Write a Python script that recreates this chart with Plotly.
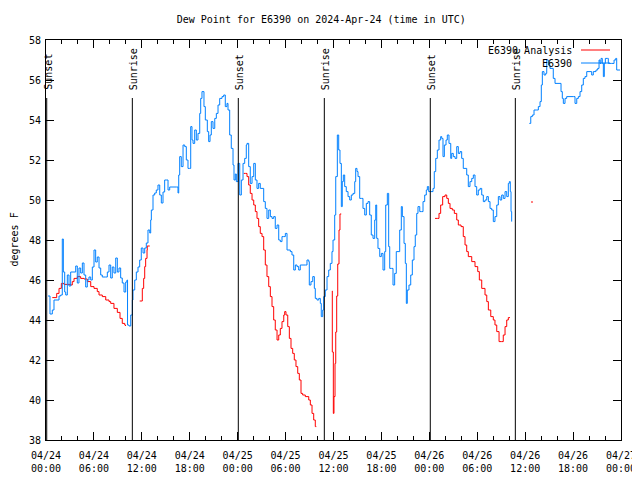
import pandas as pd
import plotly.graph_objects as go

BASE = pd.Timestamp("2024-04-24 00:00")

# E6390 observed dew point: hours since 2024-04-24 00:00 UTC, values in degF (None = gap)
obs_hours = [
    0.25, 0.50, 0.79, 1.00, 1.63, 1.84, 2.04, 2.17, 2.34, 2.47, 2.67, 2.88, 3.09, 3.51, 3.72, 3.92,
    4.13, 4.34, 4.55, 4.76, 4.97, 5.17, 5.38, 5.60, 5.80, 6.01, 6.22, 6.42, 6.64, 6.85, 7.05, 7.48,
    7.68, 7.89, 8.10, 8.30, 8.51, 8.73, 8.93, 9.14, 9.35, 9.55, 9.77, 9.98, 10.14, 10.21, 10.39, 10.61,
    10.81, 10.89, 11.11, 11.31, 11.52, 11.73, 11.93, 12.15, 12.36, 12.56, 12.77, 12.99, 13.11, 13.19,
    13.40, 13.61, 13.81, 14.02, 14.24, 14.44, 14.65, 14.86, 15.06, 15.28, 15.49, 16.32, 16.53, 16.62,
    16.74, 16.94, 17.16, 17.37, 17.57, 17.78, 17.99, 18.12, 18.28, 18.41, 18.62, 18.82, 19.03, 19.25,
    19.37, 19.53, 19.78, 19.95, 20.20, 20.37, 20.54, 20.70, 20.91, 21.13, 21.33, 21.54, 21.75, 22.04,
    22.25, 22.45, 22.66, 22.79, 23.00, 23.20, 23.42, 23.54, 23.70, 23.83, 24.04, 24.26, 24.46, 24.67,
    24.88, 25.08, 25.17, 25.38, 25.58, 25.80, 26.01, 26.21, 26.42, 26.63, 26.83, 27.05, 27.26, 27.46,
    27.67, 27.89, 28.09, 28.30, 28.51, 28.71, 28.93, 29.14, 29.34, 29.55, 29.77, 29.97, 30.18, 30.59,
    30.80, 31.02, 31.22, 31.43, 31.64, 31.84, 32.47, 32.68, 32.90, 32.97, 33.18, 33.40, 33.60, 33.72,
    33.93, 34.15, 34.35, 34.47, 34.65, 34.77, 34.97, 35.19, 35.40, 35.60, 35.81, 35.94, 36.15, 36.28,
    36.48, 36.65, 36.81, 36.98, 37.10, 37.23, 37.40, 37.60, 37.82, 38.03, 38.23, 38.44, 38.66, 38.78,
    38.94, 39.07, 39.28, 39.48, 39.69, 39.91, 40.11, 40.32, 40.53, 40.73, 40.95, 41.16, 41.29, 41.41,
    41.57, 41.79, 41.99, 42.20, 42.41, 42.54, 42.74, 42.91, 43.04, 43.24, 43.45, 43.66, 43.86, 44.08,
    44.29, 44.49, 44.62, 44.83, 44.99, 45.12, 45.24, 45.45, 45.67, 45.87, 46.08, 46.24, 46.42, 46.58,
    46.80, 47.00, 47.21, 47.42, 47.62, 47.75, 47.92, 48.17, 48.46, 48.62, 48.80, 49.00, 49.21, 49.42,
    49.55, 49.71, 49.88, 50.09, 50.25, 50.46, 50.68, 50.80, 51.00, 51.22, 51.43, 51.63, 51.84, 52.05,
    52.25, 52.47, 52.68, 52.88, 53.09, 53.31, 53.51, 53.72, 53.93, 54.13, 54.35, 54.56, 54.76, 54.97,
    55.19, 55.39, 55.60, 55.81, 56.01, 56.22, 56.44, 56.64, 56.85, 57.06, 57.26, 57.48, 57.69, 57.89,
    58.02, 58.14, 58.23, 58.31, 58.80,
    60.52, 60.70, 60.90, 61.11, 61.45, 61.65, 61.86, 62.02, 62.15, 62.36, 62.57, 62.70, 62.90, 63.11,
    63.52, 63.74, 64.36, 64.49, 64.65, 64.78, 64.99, 65.20, 66.03, 66.24, 66.46, 66.66, 66.87, 67.08,
    67.28, 67.49, 67.71, 68.12, 68.33, 68.53, 68.87, 69.08, 69.25, 69.37, 69.50, 69.66, 69.79, 69.91,
    70.04, 70.29, 70.41, 70.84, 71.13, 71.34, 71.46, 71.88,
]
obs_values = [
    45.2, 44.3, 44.5, 45.0, 45.2, 45.25, 48.05, 46.4, 45.4, 45.25, 46.25, 45.7, 46.4, 46.4, 46.7, 45.85,
    46.6, 46.35, 46.85, 46.25, 45.65, 46.0, 46.15, 46.0, 46.65, 47.5, 46.9, 47.15, 46.6, 46.25, 46.15, 46.15,
    46.4, 46.75, 46.1, 46.65, 46.35, 47.1, 46.4, 46.6, 46.1, 45.85, 45.4, 45.9, 46.0, 43.75, 43.7, 44.25,
    45.0, 45.5, 46.0, 46.4, 46.65, 47.0, 47.6, 47.35, 47.6, 47.85, 48.5, 48.35, 49.0, 49.5,
    50.25, 50.35, 50.5, 50.75, 50.25, 49.85, 50.4, 51.0, 51.0, 50.5, 50.65, 50.65, 50.35, 51.25,
    52.17, 51.67, 52.75, 52.67, 52.0, 51.58, 51.58, 53.67, 53.0, 52.83, 53.5, 53.0, 53.33, 54.33,
    55.08, 55.42, 54.67, 54.0, 53.42, 52.92, 53.25, 53.92, 53.58, 54.08, 54.33, 54.75, 55.08, 55.17,
    55.25, 54.67, 54.83, 54.5, 53.25, 52.58, 51.75, 51.0, 51.3, 50.92, 51.83, 50.25, 51.0, 51.83,
    52.08, 52.75, 52.83, 51.67, 50.83, 51.17, 51.83, 51.0, 50.58, 50.83, 50.58, 50.58, 49.92, 49.58,
    49.08, 49.5, 49.17, 49.08, 49.17, 48.58, 48.75, 48.0, 47.92, 48.17, 48.17, 48.33, 47.5, 47.42,
    47.25, 46.5, 46.75, 46.67, 46.5, 46.75, 46.75, 47.0, 46.92, 45.75, 45.92, 46.17, 45.58, 45.08,
    45.0, 45.08, 44.83, 44.17, 44.5, 45.17, 45.5, 46.17, 46.5, 46.83, 47.42, 48.0, 49.25, 51.17,
    53.25, 52.5, 51.83, 49.67, 50.92, 51.25, 50.67, 50.42, 50.17, 50.0, 50.25, 50.33, 50.92, 51.58,
    51.42, 51.17, 50.08, 50.08, 49.58, 49.25, 49.83, 49.92, 49.25, 48.25, 48.08, 49.0, 49.75, 48.08,
    47.58, 47.17, 47.33, 46.5, 47.42, 49.75, 50.33, 47.67, 46.58, 46.58, 45.75, 46.33, 47.42, 47.42,
    48.5, 49.67, 49.17, 47.83, 46.83, 44.83, 45.5, 45.75, 46.25, 47.0, 47.67, 48.25, 49.33, 49.67,
    49.42, 49.42, 49.92, 50.25, 50.5, 50.67, 50.42, 50.42, 50.58, 51.42, 52.08, 52.5, 53.0, 53.17,
    53.08, 52.17, 52.75, 53.0, 53.25, 52.83, 52.08, 52.33, 52.17, 52.08, 52.67, 52.33, 52.42, 52.08,
    51.58, 51.58, 51.25, 50.67, 50.92, 51.08, 51.25, 50.67, 50.25, 50.5, 50.58, 50.25, 49.92, 50.0,
    50.17, 49.92, 49.58, 49.5, 48.92, 49.17, 49.75, 50.17, 50.0, 50.25, 50.08, 50.42, 50.17, 50.83,
    50.92, 50.42, 49.42, 48.92, None,
    53.83, 54.17, 54.25, 54.5, 54.5, 54.67, 54.92, 55.75, 56.42, 56.25, 56.33, 57.0, 56.75, 56.58,
    56.08, 55.83, 55.83, 55.42, 55.08, 54.83, 55.08, 55.17, 55.17, 54.83, 55.08, 55.17, 55.42, 55.75,
    56.08, 56.17, 56.42, 56.42, 56.25, 56.42, 56.5, 56.58, 57.0, 56.83, 57.08, 56.83, 56.17, 56.83,
    57.08, 57.08, 56.83, 56.83, 57.0, 57.08, 56.5, 56.5,
]

# E6390 Analysis dew point (None = gap)
ana_hours = [
    0.79, 1.13, 1.34, 1.63, 1.92, 2.25, 2.67, 3.09, 3.29, 3.51, 3.92, 4.34, 4.76, 5.17, 5.60, 6.01,
    6.42, 6.64, 7.05, 7.48, 7.89, 8.10, 8.51, 8.93, 9.27, 9.55, 9.86, 9.96, 10.5,
    11.73, 12.02, 12.06, 12.23, 12.36, 12.48, 12.65, 12.68, 12.99, 13.5,
    24.76, 24.96, 25.17, 25.38, 25.58, 25.80, 26.01, 26.21, 26.42, 26.63, 26.83, 27.05, 27.26, 27.46,
    27.67, 27.89, 28.09, 28.30, 28.51, 28.71, 28.93, 29.14, 29.34, 29.55, 29.77, 29.89, 30.05, 30.27,
    30.47, 30.68, 30.89, 31.09, 31.30, 31.52, 31.72, 31.93, 32.14, 32.47, 32.90, 33.10, 33.31, 33.52,
    33.72, 33.85, 34.5,
    35.81, 35.85, 35.98, 36.06, 36.19, 36.28, 36.40, 36.53, 36.69, 36.81, 36.97, 37.5,
    48.71, 49.05, 49.21, 49.42, 49.67, 49.96, 50.18, 50.38, 50.59, 50.88, 51.13, 51.43, 51.63, 51.97,
    52.25, 52.47, 52.68, 52.88, 53.31, 53.72, 54.06, 54.26, 54.56, 54.97, 55.19, 55.39, 55.69, 56.01,
    56.22, 56.44, 56.73, 57.06, 57.26, 57.48, 57.69, 57.89, 58.10, 59.0,
    60.73, 60.98,
]
ana_values = [
    45.12, 45.12, 45.33, 45.58, 45.83, 45.78, 45.78, 45.75, 45.92, 46.08, 46.17, 46.08, 46.05, 45.92, 45.67, 45.58,
    45.42, 45.25, 45.17, 45.0, 44.92, 44.83, 44.58, 44.38, 44.08, 43.83, 43.75, 43.7, None,
    44.95, 44.95, 45.58, 46.08, 46.67, 47.08, 47.5, 47.7, 47.7, None,
    51.33, 51.33, 51.17, 50.75, 50.33, 50.0, 49.75, 49.42, 49.08, 48.67, 48.33, 48.17, 47.5, 46.75,
    46.17, 45.67, 45.17, 44.67, 44.0, 43.5, 43.0, 43.25, 43.58, 43.92, 44.25, 44.42, 44.25, 43.67,
    43.08, 42.58, 42.33, 42.0, 41.67, 41.33, 41.0, 40.33, 40.25, 40.17, 40.0, 39.75, 39.33, 39.0,
    38.67, 38.67, None,
    45.45, 42.4, 39.33, 40.17, 41.83, 43.4, 45.2, 46.8, 48.5, 49.3, 49.3, None,
    49.08, 49.08, 49.33, 49.75, 50.17, 50.25, 50.08, 49.83, 49.58, 49.5, 49.33, 49.0, 48.75, 48.67,
    48.17, 47.75, 47.42, 47.17, 46.92, 46.67, 46.42, 46.0, 45.58, 45.25, 44.92, 44.5, 44.17, 44.0,
    43.75, 43.42, 42.92, 42.92, 43.25, 43.67, 44.0, 44.12, 44.12, None,
    49.9, 49.9,
]

# Sun events (hours since 2024-04-24 00:00 UTC)
sun_labels = ["Sunset", "Sunrise", "Sunset", "Sunrise", "Sunset", "Sunrise"]
sun_hours = [0.09, 10.81, 24.08, 34.85, 48.12, 58.77]

# X tick labels
xtick_hours = [0, 6, 12, 18, 24, 30, 36, 42, 48, 54, 60, 66, 72]
xtick_text = ["04/24<br>00:00", "04/24<br>06:00", "04/24<br>12:00", "04/24<br>18:00",
              "04/25<br>00:00", "04/25<br>06:00", "04/25<br>12:00", "04/25<br>18:00",
              "04/26<br>00:00", "04/26<br>06:00", "04/26<br>12:00", "04/26<br>18:00",
              "04/27<br>00:00"]
ytick_vals = [38, 40, 42, 44, 46, 48, 50, 52, 54, 56, 58]

BLUE = "#0080ff"
RED = "#ff0000"
FONT = "DejaVu Sans Mono"


def to_time(hours):
    return [BASE + pd.Timedelta(hours=h) for h in hours]


fig = go.Figure()
fig.add_trace(go.Scatter(x=to_time(ana_hours), y=ana_values, mode="lines",
                         line=dict(color=RED, width=1, shape="hv"),
                         connectgaps=False, name="E6390 Analysis", showlegend=False))
fig.add_trace(go.Scatter(x=to_time(obs_hours), y=obs_values, mode="lines",
                         line=dict(color=BLUE, width=1, shape="hv"),
                         connectgaps=False, name="E6390", showlegend=False))

# The page body has an 8px margin, so the figure is laid out 8px in from the window corner.
OFF = 8
W, H = 632, 472
L, T = 38, 32
pw, ph = 575, 400
R, B = W - L - pw, H - T - ph


def py(pix):  # window pixel (from top) -> paper y
    return (H - B - (pix - OFF)) / ph


def px(pix):  # window pixel (from left) -> paper x
    return (pix - OFF - L) / pw


for lab, h in zip(sun_labels, sun_hours):
    t = BASE + pd.Timedelta(hours=h)
    fig.add_shape(type="line", xref="x", yref="paper", x0=t, x1=t, y0=0, y1=py(98),
                  line=dict(color="black", width=1))
    fig.add_annotation(x=t, xref="x", y=py(92), yref="paper", text=lab, textangle=-90,
                       showarrow=False, xanchor="center", yanchor="bottom", xshift=1,
                       font=dict(family=FONT, size=10, color="black"))

# legend (gnuplot style: text right, sample to its right)
for i, (name, col) in enumerate([("E6390 Analysis", RED), ("E6390", BLUE)]):
    yy = 50 + 13 * i
    fig.add_annotation(x=px(574), xref="paper", y=py(yy), yref="paper", text=name,
                       showarrow=False, xanchor="right", yanchor="middle",
                       font=dict(family=FONT, size=10, color="black"))
    fig.add_shape(type="line", xref="paper", yref="paper", x0=px(581), x1=px(610),
                  y0=py(yy), y1=py(yy), line=dict(color=col, width=1))

fig.add_annotation(x=px(7), xref="paper", y=0.5, yref="paper", text="degrees F",
                   textangle=-90, showarrow=False, xanchor="left", yanchor="middle",
                   borderpad=0,
                   font=dict(family=FONT, size=10, color="black"))

fig.update_layout(
    width=W, height=H,
    margin=dict(l=L, r=R, t=T, b=B, autoexpand=False),
    paper_bgcolor="white", plot_bgcolor="white",
    font=dict(family=FONT, size=10, color="black"),
    title=dict(text="Dew Point for E6390 on 2024-Apr-24 (time in UTC)", x=px(331), xanchor="center",
               y=1 - (19 - OFF) / H, yanchor="middle", font=dict(family=FONT, size=10, color="black")),
    showlegend=False,
)
fig.update_xaxes(
    range=[BASE, BASE + pd.Timedelta(hours=72)],
    tickvals=to_time(xtick_hours), ticktext=xtick_text,
    ticks="inside", ticklen=8, tickcolor="black", tickwidth=1,
    minor=dict(dtick=2 * 3600 * 1000, ticks="inside", ticklen=4, tickcolor="black"),
    showline=True, linecolor="black", linewidth=1, mirror="allticks",
    showgrid=False, zeroline=False, tickfont=dict(family=FONT, size=10),
    automargin=False, ticklabelstandoff=6,
)
fig.update_yaxes(
    range=[38, 58], tickvals=ytick_vals,
    ticks="inside", ticklen=8, tickcolor="black", tickwidth=1,
    showline=True, linecolor="black", linewidth=1, mirror="allticks",
    showgrid=False, zeroline=False, tickfont=dict(family=FONT, size=10),
    automargin=False, ticklabelstandoff=2,
)

fig.write_html("out.html")
